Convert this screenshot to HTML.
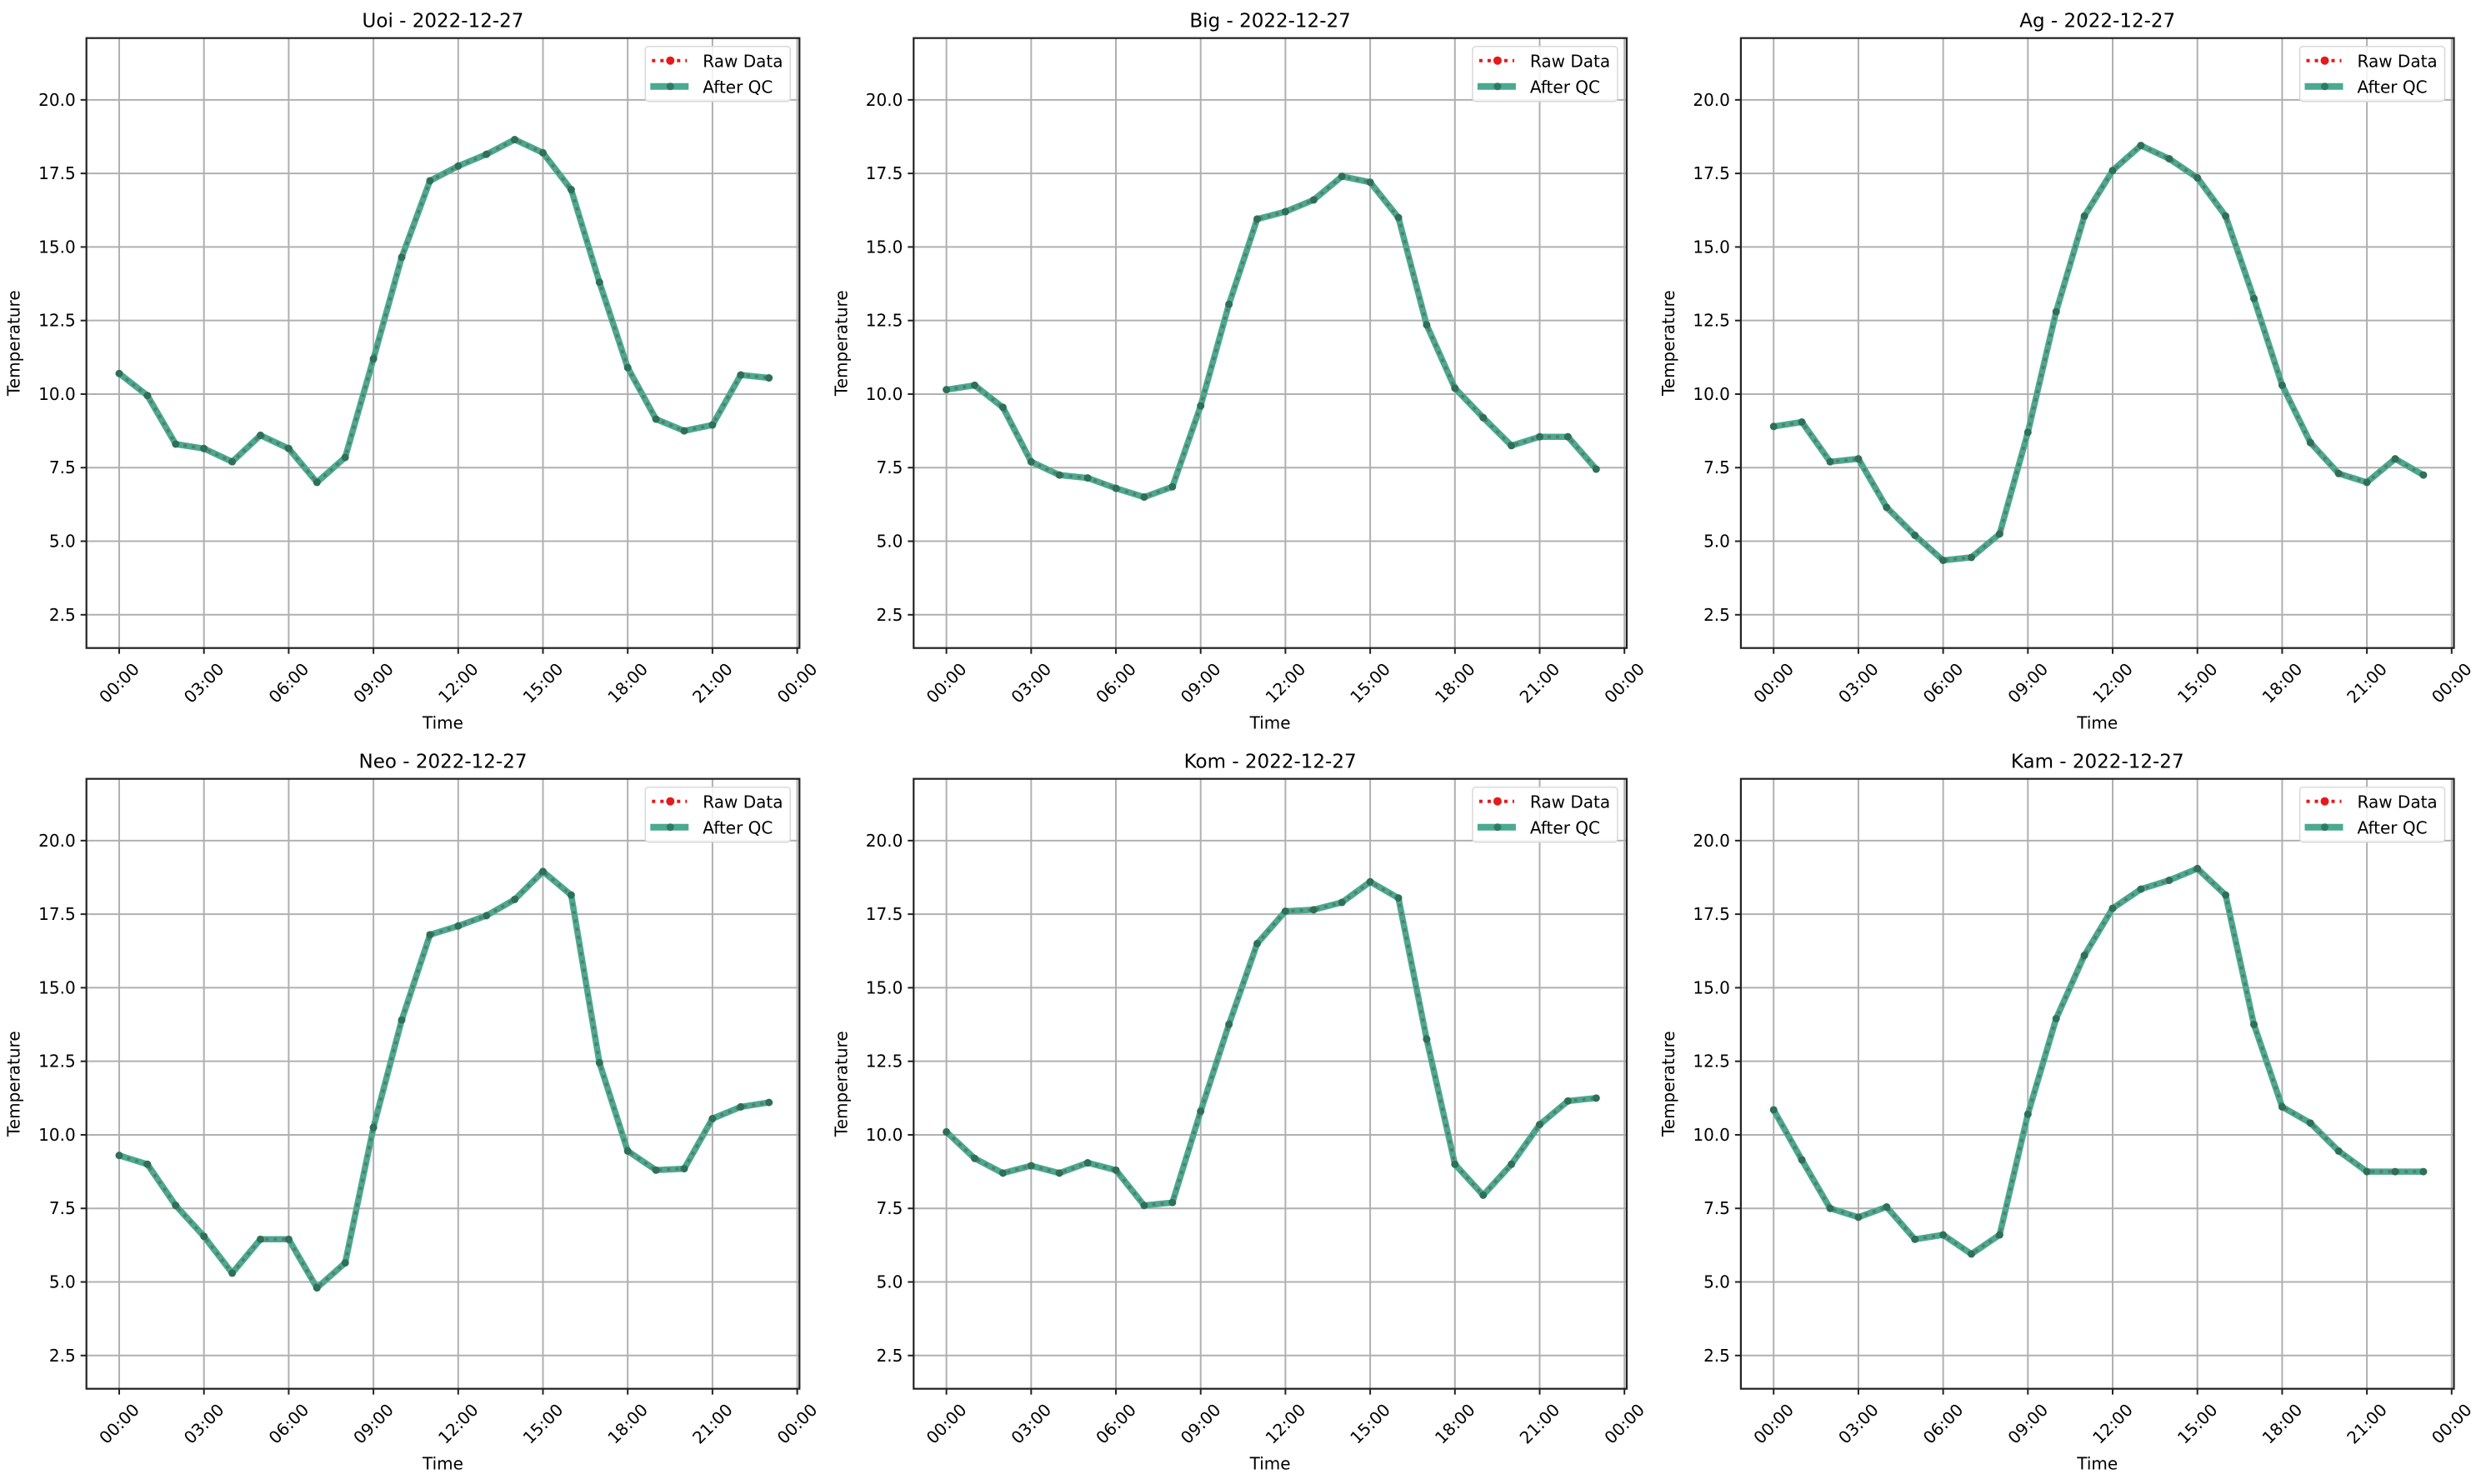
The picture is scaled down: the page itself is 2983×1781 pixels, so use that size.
<!DOCTYPE html>
<html><head><meta charset="utf-8"><style>html,body{margin:0;padding:0;background:#fff}svg{display:block}</style></head>
<body>
<svg id="fig" width="2983" height="1781" viewBox="0 0 2983 1781" xmlns="http://www.w3.org/2000/svg" font-family="'DejaVu Sans','Liberation Sans',sans-serif"></svg>
<script>
const stations = ["Uoi","Big","Ag","Neo","Kom","Kam"];
const dateLabel = "2022-12-27";
const hours = [0,1,2,3,4,5,6,7,8,9,10,11,12,13,14,15,16,17,18,19,20,21,22,23];
const uoiTemps = [10.7,9.95,8.3,8.15,7.7,8.6,8.15,7.0,7.85,11.2,14.65,17.25,17.75,18.15,18.65,18.2,16.95,13.8,10.9,9.15,8.75,8.95,10.65,10.55];
const bigTemps = [10.15,10.3,9.55,7.7,7.25,7.15,6.8,6.5,6.85,9.6,13.05,15.95,16.2,16.6,17.4,17.2,16.0,12.35,10.2,9.2,8.25,8.55,8.55,7.45];
const agTemps = [8.9,9.05,7.7,7.8,6.15,5.2,4.35,4.45,5.25,8.7,12.8,16.05,17.6,18.45,18.0,17.35,16.05,13.25,10.3,8.35,7.3,7.0,7.8,7.25];
const neoTemps = [9.3,9.0,7.6,6.55,5.3,6.45,6.45,4.8,5.65,10.25,13.9,16.8,17.1,17.45,18.0,18.95,18.15,12.45,9.45,8.8,8.85,10.55,10.95,11.1];
const komTemps = [10.1,9.2,8.7,8.95,8.7,9.05,8.8,7.6,7.7,10.8,13.75,16.5,17.6,17.65,17.9,18.6,18.05,13.25,9.0,7.95,9.0,10.35,11.15,11.25];
const kamTemps = [10.85,9.15,7.5,7.2,7.55,6.45,6.6,5.95,6.6,10.7,13.95,16.1,17.7,18.35,18.65,19.05,18.15,13.75,10.95,10.4,9.45,8.75,8.75,8.75];
const xTickHours = [0,3,6,9,12,15,18,21,24];
const xTickLabels = ["00:00","03:00","06:00","09:00","12:00","15:00","18:00","21:00","00:00"];
const yTicks = [2.5,5.0,7.5,10.0,12.5,15.0,17.5,20.0];
const yTickLabels = ["2.5","5.0","7.5","10.0","12.5","15.0","17.5","20.0"];
const allSeries = [uoiTemps,bigTemps,agTemps,neoTemps,komTemps,kamTemps];

const NS="http://www.w3.org/2000/svg";
const svg=document.getElementById('fig');
function mk(tag,attrs,parent){const e=document.createElementNS(NS,tag);for(const k in attrs)e.setAttribute(k,attrs[k]);parent.appendChild(e);return e;}

const AX_L=103.7, AX_R=959.3, AX_T=45.7, AX_B=777.7;
const XMIN=-1.16, XMAX=24.08, YMIN=1.37, YMAX=22.1;
const COL_DX=992.6, ROW_DY=889;

stations.forEach((name,i)=>{
  const ox=(i%3)*COL_DX, oy=Math.floor(i/3)*ROW_DY;
  const L=AX_L+ox, R=AX_R+ox, T=AX_T+oy, B=AX_B+oy;
  const xs=h=>L+(h-XMIN)/(XMAX-XMIN)*(R-L);
  const ys=v=>B-(v-YMIN)/(YMAX-YMIN)*(B-T);
  const g=mk('g',{},svg);
  
  
  const grid=mk('g',{stroke:'#b0b0b0','stroke-width':2},g);
  
  
  xTickHours.forEach(h=>{mk('line',{x1:xs(h),x2:xs(h),y1:T,y2:B},grid);});
  yTicks.forEach(v=>{mk('line',{x1:L,x2:R,y1:ys(v),y2:ys(v)},grid);});
  const vals=allSeries[i];
  const pts=hours.map((h,k)=>xs(h).toFixed(1)+','+ys(vals[k]).toFixed(1)).join(' ');
  const qc=mk('polyline',{points:pts,fill:'none',stroke:'#4aaa90','stroke-width':7.5,'stroke-linejoin':'round'},g);
  
  
  const raw=mk('polyline',{points:pts,fill:'none',stroke:'#5f776b','stroke-width':3.5,'stroke-dasharray':'4 6'},g);
  
  
  hours.forEach((h,k)=>{
    const c=mk('circle',{cx:xs(h),cy:ys(vals[k]),r:4.5,fill:'#2f6f58'},g);
    
    
  });
  const sp=mk('rect',{x:L,y:T,width:R-L,height:B-T,fill:'none',stroke:'#222','stroke-width':2.2},g);
  
  
  xTickHours.forEach((h,k)=>{
    const x=xs(h);
    mk('line',{x1:x,x2:x,y1:B,y2:B+7,stroke:'#222','stroke-width':2},g);
    const t=mk('text',{x:x,y:B+49,'font-size':20,'text-anchor':'middle',transform:`rotate(-45 ${x} ${B+42})`},g);
    
    
    t.textContent=xTickLabels[k];
  });
  yTicks.forEach((v,k)=>{
    const y=ys(v);
    mk('line',{x1:L-7,x2:L,y1:y,y2:y,stroke:'#222','stroke-width':2},g);
    const t=mk('text',{x:L-13,y:y+7,'font-size':20,'text-anchor':'end'},g);
    
    
    t.textContent=yTickLabels[k];
  });
  const tt=mk('text',{x:(L+R)/2,y:T-13,'font-size':23,'text-anchor':'middle'},g);
  
  
  tt.textContent=name+' - '+dateLabel;
  const xl=mk('text',{x:(L+R)/2,y:B+97,'font-size':20,'text-anchor':'middle'},g);
  
  
  xl.textContent='Time';
  const yx=L-80, yy=(T+B)/2;
  const yl=mk('text',{x:yx,y:yy,'font-size':20,'text-anchor':'middle',transform:`rotate(-90 ${yx} ${yy})`},g);
  
  
  yl.textContent='Temperature';
  const lg=mk('g',{},g);
  
  
  const lx=R-185, ly=T+10;
  mk('rect',{x:lx,y:ly,width:174,height:66,rx:4,fill:'#fff','fill-opacity':0.85,stroke:'#d8d8d8','stroke-width':1.5},lg);
  const e1=mk('g',{},lg);
  
  
  mk('line',{x1:lx+8,x2:lx+50,y1:ly+17,y2:ly+17,stroke:'#e41a1c','stroke-width':4,'stroke-dasharray':'4 6'},e1);
  mk('circle',{cx:lx+30,cy:ly+17,r:5,fill:'#e41a1c'},e1);
  const t1=mk('text',{x:lx+69,y:ly+25,'font-size':20},e1);
  t1.textContent='Raw Data';
  const e2=mk('g',{},lg);
  
  
  mk('line',{x1:lx+6,x2:lx+52,y1:ly+48,y2:ly+48,stroke:'#4aaa90','stroke-width':8},e2);
  mk('circle',{cx:lx+30,cy:ly+48,r:4.5,fill:'#2f7a62'},e2);
  const t2=mk('text',{x:lx+69,y:ly+56,'font-size':20},e2);
  t2.textContent='After QC';
});
</script>
</body></html>
